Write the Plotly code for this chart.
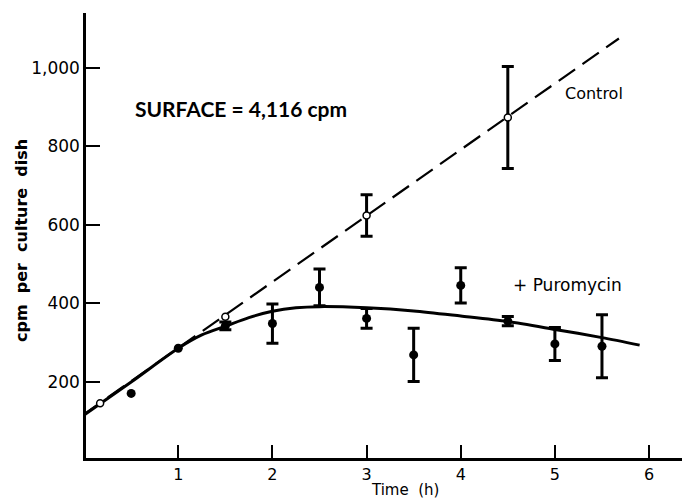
import plotly.graph_objects as go

# Control (open circles)
control_t = [0.17, 1.5, 3.0, 4.5]
control_cpm = [146, 366, 624, 874]
control_err = [0, 0, 53, 130]

# + Puromycin (filled circles)
puro_t = [0.5, 1.0, 1.5, 2.0, 2.5, 3.0, 3.5, 4.0, 4.5, 5.0, 5.5]
puro_cpm = [171, 286, 343, 349, 441, 362, 269, 446, 355, 297, 291]
puro_err = [0, 0, 10, 50, 47, 25, 68, 45, 12, 42, 80]

# Fitted curves
control_fit_t = [0.0, 5.68]
control_fit_cpm = [118, 1075]
puro_fit_t = [0.0, 0.5, 1.0, 1.25, 1.5, 1.75, 2.0, 2.25, 2.5, 3.0, 3.5, 4.0, 4.5, 5.0, 5.5, 5.9]
puro_fit_cpm = [116, 200, 286, 320, 342, 364, 380, 389, 392, 389, 381, 368, 354, 334, 313, 294]

y_ticks = [200, 400, 600, 800, 1000]
y_tick_labels = ["200", "400", "600", "800", "1,000"]
x_ticks = [1, 2, 3, 4, 5, 6]
x_tick_labels = ["1", "2", "3", "4", "5", "6"]

FONT = "DejaVu Sans"


def split(ts, vs, es):
    with_e = [(t, v, e) for t, v, e in zip(ts, vs, es) if e > 0]
    without = [(t, v) for t, v, e in zip(ts, vs, es) if e == 0]
    return with_e, without


fig = go.Figure()

fig.add_trace(go.Scatter(
    x=control_fit_t, y=control_fit_cpm, mode="lines",
    line=dict(color="black", width=2.2, dash="20px,9px"),
    showlegend=False, hoverinfo="skip"))

fig.add_trace(go.Scatter(
    x=puro_fit_t, y=puro_fit_cpm, mode="lines",
    line=dict(color="black", width=3, shape="spline", smoothing=0.8),
    showlegend=False, hoverinfo="skip"))

for ts, vs, es, mk in [
    (puro_t, puro_cpm, puro_err, dict(color="black", size=9)),
    (control_t, control_cpm, control_err,
     dict(color="white", size=7, line=dict(color="black", width=1.5))),
]:
    we, wo = split(ts, vs, es)
    if we:
        fig.add_trace(go.Scatter(
            x=[p[0] for p in we], y=[p[1] for p in we], mode="markers", marker=mk,
            error_y=dict(type="data", array=[p[2] for p in we], color="black",
                         thickness=3, width=6),
            showlegend=False))
    if wo:
        fig.add_trace(go.Scatter(
            x=[p[0] for p in wo], y=[p[1] for p in wo], mode="markers", marker=mk,
            showlegend=False))

fig.update_layout(
    width=682, height=500,
    margin=dict(l=86, r=0, t=13, b=42),
    paper_bgcolor="white", plot_bgcolor="white",
    font=dict(family=FONT, color="black", size=16),
    xaxis=dict(
        range=[0.02, 6.35], showgrid=False, zeroline=False,
        showline=True, linecolor="black", linewidth=2.5,
        ticks="inside", ticklen=13, tickwidth=2, tickcolor="black",
        tickvals=x_ticks, ticktext=x_tick_labels,
        tickfont=dict(family=FONT, size=16)),
    yaxis=dict(
        range=[6.4, 1140], showgrid=False, zeroline=False,
        showline=True, linecolor="black", linewidth=2.5,
        ticks="inside", ticklen=14, tickwidth=2, tickcolor="black",
        tickvals=y_ticks, ticktext=y_tick_labels,
        tickfont=dict(family=FONT, size=17)),
    annotations=[
        dict(text="Time  (h)", x=405, y=490, xanchor="center",
             showarrow=False, font=dict(family=FONT, size=15)),
        dict(text="<b>cpm  per  culture  dish</b>", x=22, y=241, textangle=-90,
             xanchor="center", showarrow=False, font=dict(family=FONT, size=16)),
        dict(text="<b>SURFACE = 4,116 cpm</b>", x=133, y=109, xanchor="left",
             showarrow=False, font=dict(family="Lato", size=21)),
        dict(text="Control", x=563, y=93, xanchor="left",
             showarrow=False, font=dict(family=FONT, size=16)),
        dict(text="+ Puromycin", x=511, y=285, xanchor="left",
             showarrow=False, font=dict(family=FONT, size=17)),
    ],
)

# convert pixel-based annotation positions to paper coords
plot_l, plot_t, plot_w, plot_h = 86, 13, 682 - 86, 500 - 13 - 42
for a in fig.layout.annotations:
    a.xref = "paper"
    a.yref = "paper"
    a.yanchor = "middle"
    a.x = (a.x - plot_l) / plot_w
    a.y = 1 - (a.y - plot_t) / plot_h

fig.write_html("out.html")
